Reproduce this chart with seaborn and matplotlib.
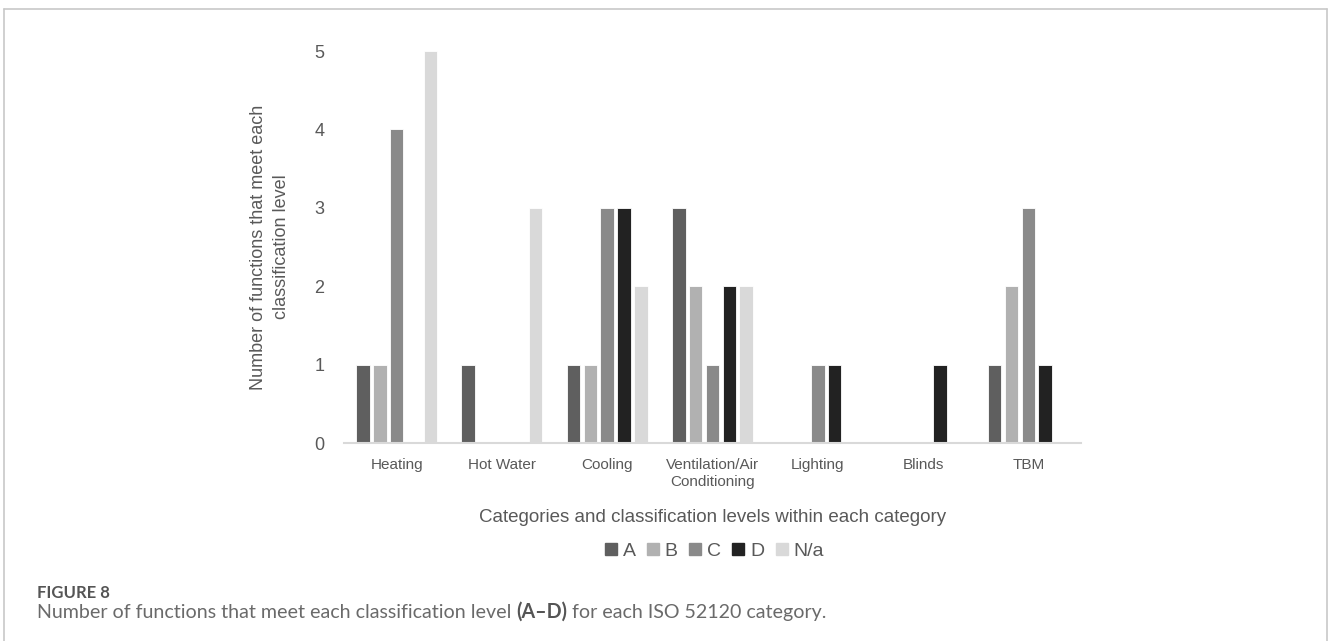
import matplotlib
matplotlib.use("Agg")
import matplotlib.pyplot as plt
from matplotlib.lines import Line2D
import seaborn as sns
import pandas as pd

# Functions per ISO 52120 category and classification level
categories = ["Heating", "Hot Water", "Cooling", "Ventilation/Air\nConditioning",
              "Lighting", "Blinds", "TBM"]
levels = ["A", "B", "C", "D", "N/a"]
level_a = [1, 1, 1, 3, 0, 0, 1]
level_b = [1, 0, 1, 2, 0, 0, 2]
level_c = [4, 0, 3, 1, 1, 0, 3]
level_d = [0, 0, 3, 2, 1, 1, 1]
level_na = [5, 3, 2, 2, 0, 0, 0]
y_ticks = [0, 1, 2, 3, 4, 5]

colors = ["#5f5f5f", "#b1b1b1", "#8a8a8a", "#222222", "#d9d9d9"]
text_grey = "#595959"

rows = []
for lvl, vals in zip(levels, [level_a, level_b, level_c, level_d, level_na]):
    for cat, v in zip(categories, vals):
        rows.append({"category": cat, "level": lvl, "count": v})
df = pd.DataFrame(rows)

sns.set_theme(style="white")
plt.rcParams["font.family"] = ["Liberation Sans", "DejaVu Sans"]

W, H = 1328, 641
fig = plt.figure(figsize=(W / 100, H / 100), dpi=100)
ax = fig.add_axes([344 / W, 1 - 443 / H, (1081 - 344) / W, (443 - 51) / H])

sns.barplot(data=df, x="category", y="count", hue="level", order=categories,
            hue_order=levels, palette=colors, width=0.8, gap=0.2,
            edgecolor="white", linewidth=0.6, ax=ax, legend=False)

ax.set_ylim(0, 5)
ax.set_xlim(-0.5, len(categories) - 0.5)
ax.set_yticks(y_ticks)
ax.tick_params(axis="y", length=0, pad=14, labelsize=13, labelcolor=text_grey)
ax.tick_params(axis="x", length=0, pad=11, labelsize=11, labelcolor=text_grey)
for lbl in ax.get_xticklabels():
    lbl.set_linespacing(1.25)

for side in ["top", "right", "left"]:
    ax.spines[side].set_visible(False)
ax.spines["bottom"].set_color("#d9d9d9")
ax.spines["bottom"].set_linewidth(1.5)

ax.set_ylabel("Number of functions that meet each\nclassification level",
              fontsize=13, color=text_grey, va="center", ha="center",
              multialignment="center", linespacing=1.5)
ax.yaxis.set_label_coords((270 - 344) / 737, 0.5)
ax.set_xlabel("Categories and classification levels within each category",
              fontsize=13.5, color=text_grey, va="center")
ax.xaxis.set_label_coords(0.5, -(517 - 443) / 392)

handles = [Line2D([], [], marker="s", linestyle="none", markersize=8,
                  markerfacecolor=c, markeredgecolor=c) for c in colors]
fig.legend(handles, levels, loc="center", ncol=5, frameon=False,
           bbox_to_anchor=(714 / W, 1 - 551 / H), fontsize=14,
           handlelength=0.7, handletextpad=0.25, columnspacing=0.55,
           labelcolor=text_grey)

# Caption below the chart, with the level range in bold
cap_family = ["Lato", "DejaVu Sans"]
cap_size = 14.1
fig.text(37 / W, 1 - 593 / H, "FIGURE 8", fontsize=12, fontweight="bold",
         color="#555555", family=cap_family, va="center", ha="left")
cap_y = 1 - 618 / H
t1 = fig.text(37 / W, cap_y, "Number of functions that meet each classification level ",
              fontsize=cap_size, color="#6a6a6a", family=cap_family,
              va="baseline", ha="left")
t2 = fig.text(0, cap_y, "(A\u2013D)", fontsize=cap_size, color="#555555",
              fontweight="bold", family=cap_family, va="baseline", ha="left")
t3 = fig.text(0, cap_y, " for each ISO 52120 category.", fontsize=cap_size,
              color="#6a6a6a", family=cap_family, va="baseline", ha="left")

fig.canvas.draw()
r = fig.canvas.get_renderer()
inv = fig.transFigure.inverted()
x2 = inv.transform((t1.get_window_extent(r).x1, 0))[0]
t2.set_x(x2)
fig.canvas.draw()
x3 = inv.transform((t2.get_window_extent(r).x1, 0))[0]
t3.set_x(x3)

# Frame around the figure panel
frame = dict(color="#c8c8c8", linewidth=1.2, transform=fig.transFigure)
fig.add_artist(Line2D([4 / W, 4 / W], [0, 1 - 9 / H], **frame))
fig.add_artist(Line2D([4 / W, 1327 / W], [1 - 9 / H, 1 - 9 / H], **frame))
fig.add_artist(Line2D([1327 / W, 1327 / W], [0, 1 - 9 / H], **frame))

fig.savefig("out.png", dpi=100)
